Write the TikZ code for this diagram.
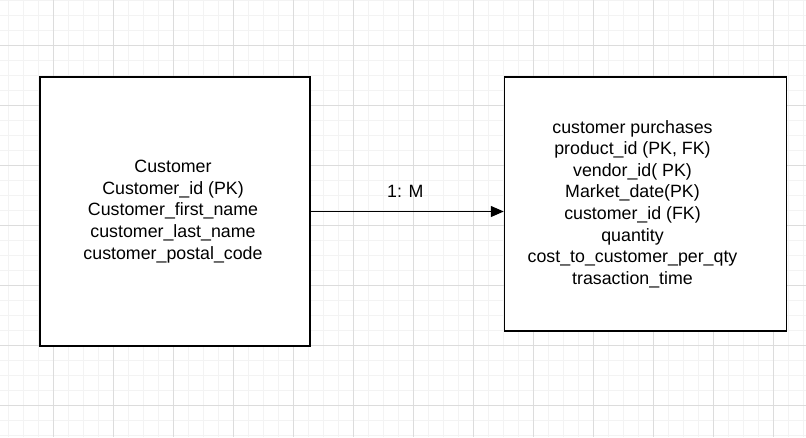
\documentclass[tikz,border=0pt]{standalone}
\usepackage{fontspec}
\setmainfont{Liberation Sans}
\usetikzlibrary{arrows.meta}
\begin{document}
\begin{tikzpicture}[x=1pt,y=-1pt,
  entity/.style={draw=black,line width=1.5pt,fill=white,minimum width=#1,inner sep=0pt},
  etext/.style={inner sep=0pt,align=center,font=\fontsize{17.8}{21.6}\selectfont},
  conn/.style={line width=1.3pt,-{Triangle[length=13pt,width=11pt]}},
  lbl/.style={font=\fontsize{17.8}{20}\selectfont}]
\useasboundingbox (0,0) rectangle (806,437);
\fill[white] (0,0) rectangle (806,437);
\foreach \i in {0,...,53} \draw[line width=1pt,color={rgb,255:red,243;green,243;blue,243}] (8+15*\i,0) -- (8+15*\i,437);
\foreach \i in {0,...,29} \draw[line width=1pt,color={rgb,255:red,243;green,243;blue,243}] (0,15*\i) -- (806,15*\i);
\foreach \i in {0,...,13} \draw[line width=1pt,color={rgb,255:red,220;green,220;blue,220}] (53+60*\i,0) -- (53+60*\i,437);
\foreach \i in {0,...,6} \draw[line width=1pt,color={rgb,255:red,220;green,220;blue,220}] (0,45+60*\i) -- (806,45+60*\i);
\node[entity=270pt,minimum height=269pt] (cust) at (175,211.5) {};
\node[etext] (custtxt) at ([xshift=-2pt]cust.center) {Customer\\Customer\_id (PK)\\Customer\_first\_name\\customer\_last\_name\\customer\_postal\_code};
\node[entity=282pt,minimum height=254pt] (purch) at (645.5,204) {};
\node[etext] (purchtxt) at ([xshift=-13pt]purch.center) {customer purchases\\product\_id (PK, FK)\\vendor\_id( PK)\\Market\_date(PK)\\customer\_id (FK)\\quantity\\cost\_to\_customer\_per\_qty\\trasaction\_time};
\draw[conn] (cust.east |- 0,211.5) coordinate (a) -- (a -| purch.west) node[midway,lbl,above=10pt,xshift=-2pt] {1: M};
\end{tikzpicture}
\end{document}
